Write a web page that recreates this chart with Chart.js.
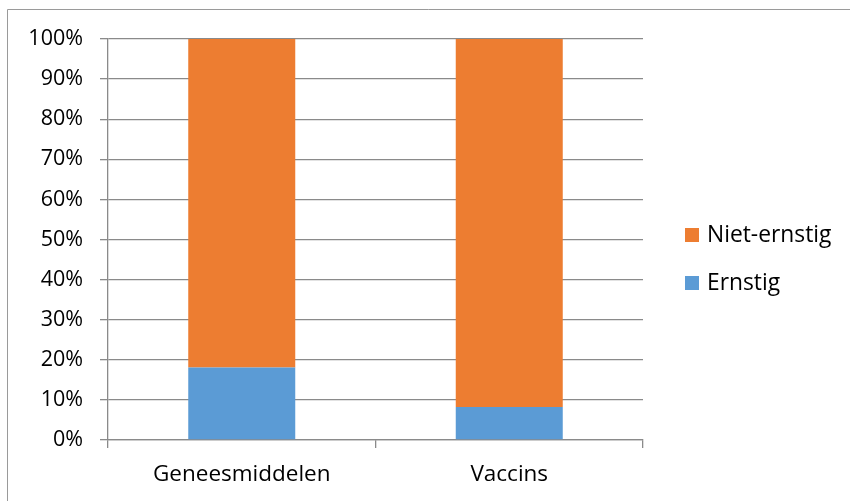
<!DOCTYPE html>
<html>
<head>
<meta charset="utf-8">
<script src="https://cdn.jsdelivr.net/npm/chart.js@4.4.1/dist/chart.umd.min.js"></script>
<style>
  html, body { margin: 0; padding: 0; background: #ffffff; }
  #wrap { position: relative; width: 850px; height: 501px; }
</style>
</head>
<body>
<div id="wrap"><canvas id="chart" width="850" height="501"></canvas></div>
<script>
// Categories and stacked shares (percent)
const categories = ['Geneesmiddelen', 'Vaccins'];
const ernstig = [18.1, 8.2];
const nietErnstig = [81.9, 91.8];
const yTicks = [0, 10, 20, 30, 40, 50, 60, 70, 80, 90, 100];

const FONT = 'Open Sans';
const gridColor = '#8a8a8a';

// Thin frame around the chart (left and top edges visible)
const framePlugin = {
  id: 'frame',
  beforeDraw(chart) {
    const ctx = chart.ctx;
    ctx.save();
    ctx.strokeStyle = '#9a9a9a';
    ctx.lineWidth = 1;
    ctx.beginPath();
    ctx.moveTo(7.5, 501);
    ctx.lineTo(7.5, 9.5);
    ctx.lineTo(850, 9.5);
    ctx.stroke();
    ctx.restore();
  }
};

// Legend on the right, listed top-down in reverse stacking order
const sideLegend = {
  id: 'sideLegend',
  afterDraw(chart) {
    const ctx = chart.ctx;
    const ds = chart.data.datasets.slice().reverse();
    ctx.save();
    ctx.font = '22.8px "' + FONT + '"';
    ctx.textBaseline = 'middle';
    ctx.textAlign = 'left';
    ds.forEach((d, i) => {
      const cy = 235 + i * 48;
      ctx.fillStyle = d.backgroundColor;
      ctx.fillRect(685, cy - 7, 14, 14);
      ctx.fillStyle = '#000000';
      ctx.fillText(d.label, 707, cy + 1);
    });
    ctx.restore();
  }
};

new Chart(document.getElementById('chart'), {
  type: 'bar',
  data: {
    labels: categories,
    datasets: [
      { label: 'Ernstig', data: ernstig, backgroundColor: '#5b9bd5', borderWidth: 0 },
      { label: 'Niet-ernstig', data: nietErnstig, backgroundColor: '#ed7d31', borderWidth: 0 }
    ]
  },
  options: {
    responsive: false,
    animation: false,
    devicePixelRatio: 1,
    layout: { padding: { top: 39, right: 207, bottom: 6, left: 0 } },
    datasets: { bar: { barPercentage: 0.4, categoryPercentage: 1.0 } },
    plugins: {
      legend: { display: false },
      tooltip: { enabled: false }
    },
    scales: {
      x: {
        stacked: true,
        afterFit(scale) { scale.height = 55; },
        grid: { offset: true, drawOnChartArea: false, color: gridColor, tickLength: 8, lineWidth: 1.3 },
        border: { color: gridColor, width: 1.3 },
        ticks: { color: '#000000', font: { family: FONT, size: 22.5 }, padding: 13 }
      },
      y: {
        stacked: true,
        min: 0,
        max: 100,
        afterFit(scale) { scale.width = 108; },
        afterBuildTicks(scale) { scale.ticks = yTicks.map(v => ({ value: v })); },
        grid: { color: gridColor, tickLength: 8, lineWidth: 1.3 },
        border: { color: gridColor, width: 1.3 },
        ticks: {
          color: '#000000',
          font: { family: FONT, size: 21.5 },
          padding: 17,
          callback: v => v + '%'
        }
      }
    }
  },
  plugins: [framePlugin, sideLegend]
});
</script>
</body>
</html>
